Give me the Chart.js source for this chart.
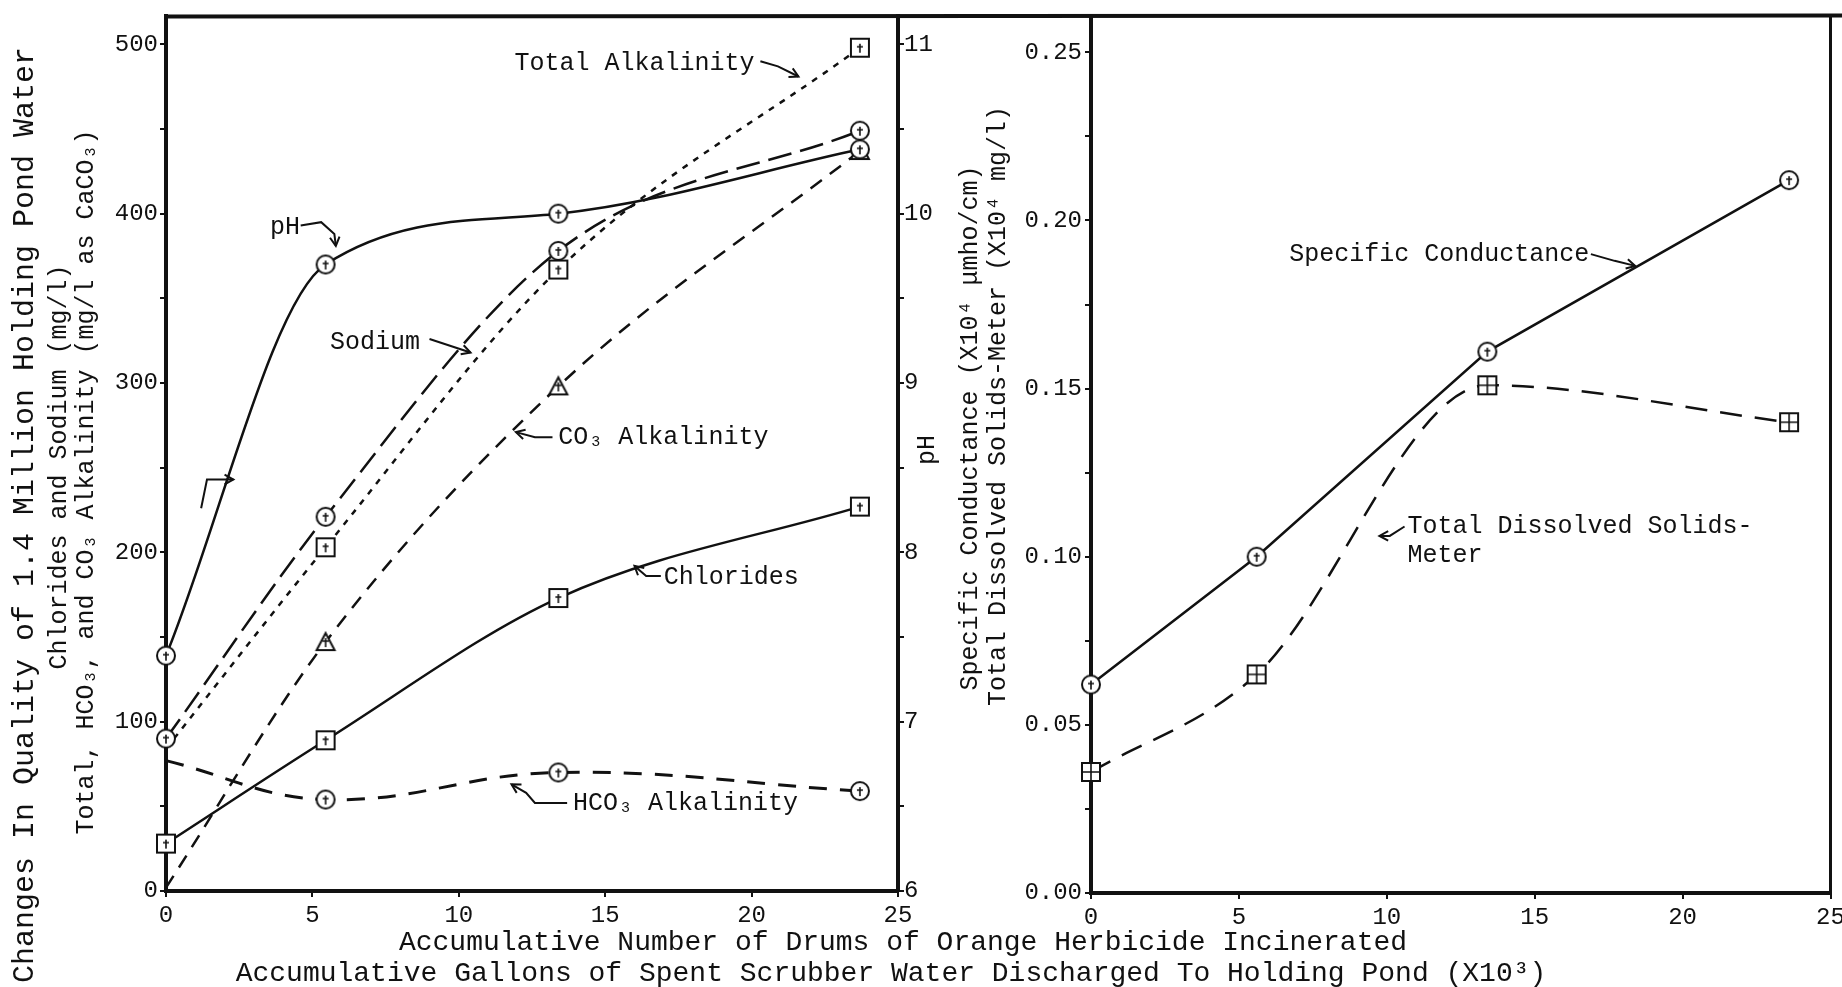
<!DOCTYPE html>
<html>
<head>
<meta charset="utf-8">
<script src="https://cdn.jsdelivr.net/npm/chart.js@4.4.0/dist/chart.umd.min.js"></script>
<style>
  html, body { margin: 0; background: #fff; }
  #wrap { position: relative; width: 1842px; height: 987px; }
  #wrap canvas { position: absolute; left: 0; top: 0; }
</style>
</head>
<body>
<div id="wrap">
  <canvas id="leftChart" width="1842" height="987"></canvas>
  <canvas id="rightChart" width="1842" height="987"></canvas>
</div>
<script>
// drums incinerated (x10^3 gallons on 2nd scale)
const drumsLeft = [0, 5.45, 13.4, 23.7];
const drumsRight = [0, 5.6, 13.4, 23.6];

// left panel, mg/l
const phValues = [7.39, 9.70, 10.00, 10.38];
const sodiumValues = [90, 221, 378, 449];
const totalAlkValues = [84, 203, 367, 498];
const co3AlkValues = [2, 147, 298, 437];
const chlorideValues = [28, 89, 173, 227];
const hco3AlkValues = [77, 54, 70, 59];

// right panel, x10^4
const conductanceValues = [0.062, 0.100, 0.161, 0.212];
const tdsValues = [0.036, 0.065, 0.151, 0.140];

const xTicks = [0, 5, 10, 15, 20, 25];

const FONT = "'Liberation Mono', 'DejaVu Sans Mono', monospace";
const INK = '#111';

function makeMarker(kind) {
  const c = document.createElement('canvas');
  c.width = 24;
  c.height = 24;
  const g = c.getContext('2d');
  g.strokeStyle = INK;
  g.fillStyle = '#fff';
  g.lineWidth = 2;
  g.beginPath();
  if (kind === 'circle') {
    g.arc(12, 12, 9, 0, Math.PI * 2);
  } else if (kind === 'triangle') {
    g.moveTo(12, 3); g.lineTo(21, 20); g.lineTo(3, 20); g.closePath();
  } else {
    g.rect(3, 3, 18, 18);
  }
  g.fill();
  g.stroke();
  g.lineWidth = 1.6;
  g.beginPath();
  if (kind === 'grid') {
    g.moveTo(12, 3); g.lineTo(12, 21); g.moveTo(3, 12); g.lineTo(21, 12);
  } else {
    g.moveTo(12, 8); g.lineTo(12, 17); g.moveTo(9, 11); g.lineTo(15, 11);
  }
  g.stroke();
  return c;
}

const circleMark = makeMarker('circle');
const squareMark = makeMarker('square');
const triMark = makeMarker('triangle');
const gridMark = makeMarker('grid');

function pts(xs, ys) {
  return xs.map((x, i) => ({ x: x, y: ys[i] }));
}

function series(data, opts) {
  return Object.assign({
    data: data,
    borderColor: INK,
    backgroundColor: INK,
    borderWidth: 2.5,
    pointRadius: 9,
    fill: false,
    clip: false,
    cubicInterpolationMode: 'monotone'
  }, opts);
}

function drawText(ctx, text, px, py, size, align, rot) {
  ctx.save();
  ctx.translate(px, py);
  if (rot) ctx.rotate(rot);
  ctx.font = size + 'px ' + FONT;
  ctx.fillStyle = INK;
  ctx.textAlign = align || 'left';
  ctx.textBaseline = 'middle';
  ctx.fillText(text, 0, 0);
  ctx.restore();
}

function drawArrow(ctx, path) {
  ctx.save();
  ctx.strokeStyle = INK;
  ctx.lineWidth = 2;
  ctx.beginPath();
  path.forEach((p, i) => (i ? ctx.lineTo(p[0], p[1]) : ctx.moveTo(p[0], p[1])));
  ctx.stroke();
  const [x1, y1] = path[path.length - 2];
  const [x2, y2] = path[path.length - 1];
  const ang = Math.atan2(y2 - y1, x2 - x1);
  ctx.beginPath();
  ctx.moveTo(x2 - 10 * Math.cos(ang - 0.5), y2 - 10 * Math.sin(ang - 0.5));
  ctx.lineTo(x2, y2);
  ctx.lineTo(x2 - 10 * Math.cos(ang + 0.5), y2 - 10 * Math.sin(ang + 0.5));
  ctx.stroke();
  ctx.restore();
}

// curve labels, in data units
const leftNotes = [
  { text: 'Total Alkalinity', x: 11.9, y: 489, arrow: [[20.3, 490], [20.9, 487], [21.6, 481]] },
  { text: 'pH', x: 3.55, y: 392, arrow: [[4.6, 393], [5.3, 395], [5.75, 388], [5.8, 381]] },
  { text: 'Sodium', x: 5.6, y: 324, arrow: [[9.0, 326], [9.7, 322], [10.4, 318]] },
  { text: 'CO\u2083 Alkalinity', x: 13.4, y: 268, arrow: [[13.2, 268], [12.6, 268], [11.95, 271]] },
  { text: 'Chlorides', x: 17.0, y: 185, arrow: [[16.9, 186], [16.4, 186], [16.0, 192]] },
  { text: 'HCO\u2083 Alkalinity', x: 13.9, y: 52, arrow: [[13.7, 52], [12.6, 52], [12.3, 58], [11.8, 63]] },
  { text: '', x: 0, y: 0, arrow: [[1.2, 226], [1.4, 243], [2.3, 243]] }
];

const rightNotes = [
  { text: 'Specific Conductance', x: 6.7, y: 0.190, arrow: [[16.9, 0.190], [17.7, 0.188], [18.4, 0.1865]] },
  { text: 'Total Dissolved Solids-', x: 10.7, y: 0.109, arrow: [[10.6, 0.109], [10.1, 0.1062], [9.75, 0.1062]] },
  { text: 'Meter', x: 10.7, y: 0.1003, arrow: null }
];

function drawNotes(chart, notes, yId) {
  const ctx = chart.ctx;
  const xs = chart.scales.x;
  const ys = chart.scales[yId];
  notes.forEach(n => {
    if (n.text) drawText(ctx, n.text, xs.getPixelForValue(n.x), ys.getPixelForValue(n.y), 25, 'left');
    if (n.arrow) {
      drawArrow(ctx, n.arrow.map(p => [xs.getPixelForValue(p[0]), ys.getPixelForValue(p[1])]));
    }
  });
}

const leftDecor = {
  id: 'leftDecor',
  afterDraw(chart) {
    const ctx = chart.ctx;
    const a = chart.chartArea;
    // frame top line running across both panels
    ctx.save();
    ctx.strokeStyle = INK;
    ctx.lineWidth = 4;
    ctx.beginPath();
    ctx.moveTo(a.left - 2, a.top);
    ctx.lineTo(chart.width, a.top - 1);
    ctx.stroke();
    ctx.restore();

    drawNotes(chart, leftNotes, 'y');

    const up = -Math.PI / 2;
    drawText(ctx, 'Changes In Quality of 1.4 Million Holding Pond Water', 25, 515, 30, 'center', up);
    drawText(ctx, 'Chlorides and Sodium (mg/l)', 59, 467, 25, 'center', up);
    drawText(ctx, 'Total, HCO\u2083, and CO\u2083 Alkalinity (mg/l as CaCO\u2083)', 86, 482, 25, 'center', up);
    drawText(ctx, 'pH', a.right + 29, 450, 25, 'center', up);

    drawText(ctx, 'Accumulative Number of Drums of Orange Herbicide Incinerated', a.right + 5, 943, 28, 'center');
    drawText(ctx, 'Accumulative Gallons of Spent Scrubber Water Discharged To Holding Pond (X10\u00b3)', a.right - 7, 974, 28, 'center');
  }
};

const rightDecor = {
  id: 'rightDecor',
  afterDraw(chart) {
    const ctx = chart.ctx;
    const a = chart.chartArea;
    drawNotes(chart, rightNotes, 'y');
    const up = -Math.PI / 2;
    drawText(ctx, 'Specific Conductance (X10\u2074 \u03bcmho/cm)', a.left - 121, 428, 25, 'center', up);
    drawText(ctx, 'Total Dissolved Solids-Meter (X10\u2074 mg/l)', a.left - 93, 406, 25, 'center', up);
  }
};

function axisStyle(extra) {
  return Object.assign({
    border: { display: true, color: INK, width: 4 },
    grid: { drawOnChartArea: false, drawTicks: true, tickLength: 6, color: INK, lineWidth: 2 },
  }, extra);
}

const tickFont = { family: FONT, size: 24 };

new Chart(document.getElementById('leftChart'), {
  type: 'line',
  data: {
    datasets: [
      series(pts(drumsLeft, phValues), { yAxisID: 'y1', pointStyle: circleMark }),
      series(pts(drumsLeft, sodiumValues), { yAxisID: 'y', pointStyle: circleMark, borderDash: [24, 9] }),
      series(pts(drumsLeft, totalAlkValues), { yAxisID: 'y', pointStyle: squareMark, borderDash: [6, 7], pointRadius: [0, 9, 9, 9] }),
      series(pts(drumsLeft, co3AlkValues), { yAxisID: 'y', pointStyle: triMark, borderDash: [14, 10], pointRadius: [0, 9, 9, 9] }),
      series(pts(drumsLeft, chlorideValues), { yAxisID: 'y', pointStyle: squareMark }),
      series(pts(drumsLeft, hco3AlkValues), { yAxisID: 'y', pointStyle: circleMark, borderDash: [18, 13], borderWidth: 3,
        cubicInterpolationMode: 'default', tension: 0.4, pointRadius: [0, 9, 9, 9] })
    ]
  },
  options: {
    responsive: false,
    devicePixelRatio: 1,
    animation: false,
    events: [],
    layout: { padding: { top: 13, right: 882, left: 0, bottom: 0 } },
    plugins: { legend: { display: false }, tooltip: { enabled: false } },
    scales: {
      x: axisStyle({
        type: 'linear', min: 0, max: 25,
        afterFit: s => { s.height = 96; s.paddingLeft = 0; s.paddingRight = 0; },
        afterBuildTicks: s => { s.ticks = xTicks.map(v => ({ value: v })); },
        ticks: { font: tickFont, color: INK, padding: 4, maxRotation: 0 }
      }),
      y: axisStyle({
        type: 'linear', position: 'left', min: 0, max: 516.5,
        afterFit: s => { s.width = 166; },
        ticks: { font: tickFont, color: INK, padding: 2, stepSize: 50, includeBounds: false,
          callback: v => (v % 100 === 0 ? String(v) : '') }
      }),
      y1: axisStyle({
        type: 'linear', position: 'right', min: 6, max: 11.165,
        afterFit: s => { s.width = 62; },
        ticks: { font: tickFont, color: INK, padding: 0, stepSize: 0.5, includeBounds: false,
          callback: v => (Number.isInteger(v) ? String(v) : '') }
      })
    }
  },
  plugins: [leftDecor]
});

new Chart(document.getElementById('rightChart'), {
  type: 'line',
  data: {
    datasets: [
      series(pts(drumsRight, conductanceValues), { pointStyle: circleMark, cubicInterpolationMode: 'default', tension: 0 }),
      series(pts(drumsRight, tdsValues), { pointStyle: gridMark, borderDash: [22, 13] })
    ]
  },
  options: {
    responsive: false,
    devicePixelRatio: 1,
    animation: false,
    events: [],
    layout: { padding: { top: 13, right: 8, left: 0, bottom: 0 } },
    plugins: { legend: { display: false }, tooltip: { enabled: false } },
    scales: {
      x: axisStyle({
        type: 'linear', min: 0, max: 25,
        afterFit: s => { s.height = 94; s.paddingLeft = 0; s.paddingRight = 0; },
        afterBuildTicks: s => { s.ticks = xTicks.map(v => ({ value: v })); },
        ticks: { font: tickFont, color: INK, padding: 4, maxRotation: 0 }
      }),
      y: axisStyle({
        type: 'linear', position: 'left', min: 0, max: 0.2604,
        afterFit: s => { s.width = 1091; },
        ticks: { font: tickFont, color: INK, padding: 3, stepSize: 0.025, includeBounds: false,
          callback: v => (Math.round(v * 1000) % 50 === 0 ? v.toFixed(2) : '') }
      }),
      yr: axisStyle({
        type: 'linear', position: 'right', min: 0, max: 0.2604,
        afterFit: s => { s.width = 0; s.paddingTop = 0; s.paddingBottom = 0; },
        grid: { drawOnChartArea: false, drawTicks: false },
        border: { display: true, color: INK, width: 3 },
        ticks: { display: false }
      })
    }
  },
  plugins: [rightDecor]
});
</script>
</body>
</html>
